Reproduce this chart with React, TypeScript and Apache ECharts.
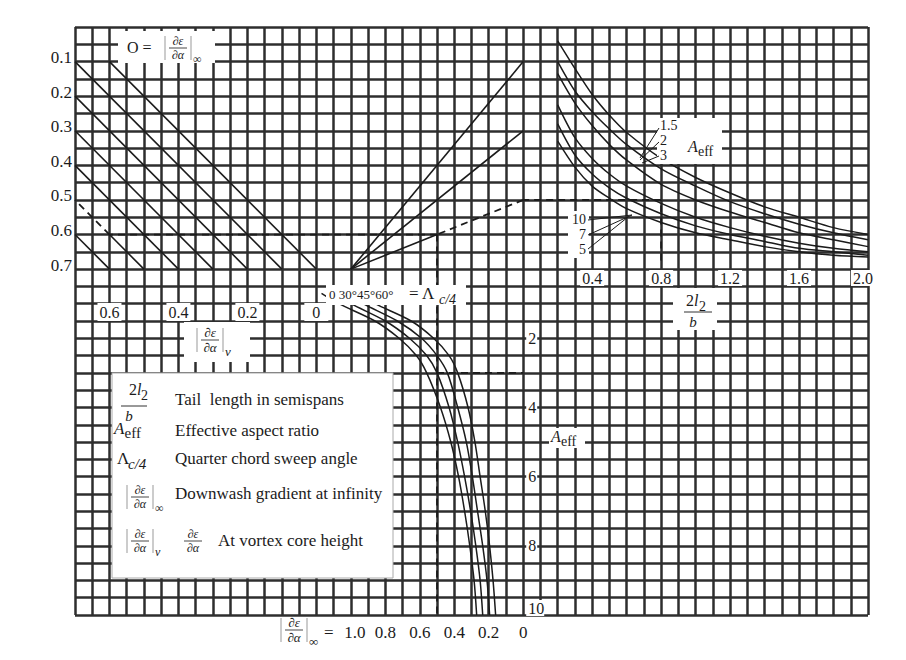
import React, { useEffect, useRef } from "react";
import * as echarts from "echarts";

// ---------- data ----------
// left edge scale: (∂ε/∂α)∞ values
const S_TICKS = [0.1, 0.2, 0.3, 0.4, 0.5, 0.6, 0.7];
// bottom scale of the upper-left quadrant: (∂ε/∂α)v
const V_TICKS = [0.6, 0.4, 0.2, 0];
// bottom scale of the lower quadrant: (∂ε/∂α)∞
const INF_TICKS = [1.0, 0.8, 0.6, 0.4, 0.2, 0];
// horizontal scale of the upper-right quadrant: 2l2/b
const TAIL_TICKS = [0.4, 0.8, 1.2, 1.6, 2.0];
// vertical scale of the lower quadrant: Aeff
const AEFF_TICKS = [2, 4, 6, 8, 10];
const SWEEP_TEXT = "0 30°45°60°";

// upper-left guide lines: start [v, s] -> end [v, s]
const GUIDE_V0 = [0.6, 0.7, 0.7, 0.7, 0.7, 0.6, 0.7];
const GUIDE_S0 = [0.1, 0.1, 0.2, 0.3, 0.4, 0.6, 0.6];
const GUIDE_V1 = [0.0, 0.1, 0.2, 0.3, 0.4, 0.5, 0.6];
const GUIDE_S1 = [0.7, 0.7, 0.7, 0.7, 0.7, 0.7, 0.7];

// fan of lines from (∂ε/∂α)∞ = 1.0 to the centre axis (h units of right quadrant)
const FAN_H = [12, 8];
const FAN_LOW_H = 4;

// lower quadrant curves: (∂ε/∂α)∞ versus Aeff for each sweep angle
const CURVE_A = [0.7, 1, 1.5, 2, 2.5, 3, 4, 5, 6, 7, 8, 9, 10];
const CURVE_L0 = [1.17, 1.07, 0.86, 0.72, 0.62, 0.56, 0.48, 0.42, 0.375, 0.34, 0.31, 0.285, 0.27];
const CURVE_L30 = [1.1, 1.0, 0.8, 0.66, 0.56, 0.5, 0.43, 0.38, 0.34, 0.305, 0.275, 0.25, 0.235];
const CURVE_L45 = [1.03, 0.93, 0.73, 0.59, 0.5, 0.44, 0.38, 0.33, 0.295, 0.265, 0.235, 0.21, 0.195];
const CURVE_L60 = [0.96, 0.86, 0.65, 0.52, 0.43, 0.38, 0.32, 0.28, 0.25, 0.22, 0.195, 0.175, 0.16];

// upper-right quadrant curves: h versus 2l2/b for each Aeff
const R_T = [0.2, 0.3, 0.4, 0.5, 0.6, 0.8, 1.0, 1.2, 1.4, 1.6, 1.8, 2.0];
const R_A15 = [13.2, 11.6, 10.1, 8.9, 7.9, 6.4, 5.3, 4.4, 3.6, 3.0, 2.4, 2.0];
const R_A2 = [12.0, 10.3, 9.1, 8.1, 7.2, 5.8, 4.8, 3.9, 3.2, 2.6, 2.1, 1.7];
const R_A3 = [11.3, 9.6, 8.3, 7.2, 6.3, 4.9, 4.0, 3.3, 2.7, 2.1, 1.7, 1.3];
const R_A5 = [9.5, 7.6, 6.4, 5.5, 4.8, 3.8, 3.0, 2.4, 1.9, 1.5, 1.2, 1.0];
const R_A7 = [8.4, 6.6, 5.5, 4.7, 4.1, 3.2, 2.5, 2.0, 1.6, 1.2, 1.0, 0.8];
const R_A10 = [7.4, 5.9, 4.8, 4.1, 3.5, 2.7, 2.1, 1.7, 1.3, 1.0, 0.8, 0.7];

// worked example (dashed)
const EX_TAIL = 0.8;
const EX_H = 4;
const EX_S = 0.6;
const EX_S_START = 0.5;
const EX_INF = 0.5;
const EX_AEFF = 3;

// ---------- cell scales (46 x 34 square cells) ----------
const vCol = (v: number) => 14 - 20 * v;
const sRow = (s: number) => 20 * (0.7 - s);
const infCol = (e: number) => 26 - 10 * e;
const tailCol = (t: number) => 26 + 10 * t;
const aRow = (a: number) => -2 * a;

const FONT = '"Liberation Serif", "Times New Roman", serif';
const INK = "#1b1b1b";

function lineSeries(data: number[][], opt: any = {}) {
  return {
    type: "line",
    data,
    symbol: "none",
    showSymbol: false,
    silent: true,
    smooth: opt.smooth ?? false,
    clip: true,
    z: 5,
    lineStyle: {
      color: INK,
      width: opt.w ?? 1.6,
      type: opt.dash ? [7, 5] : "solid",
    },
  };
}

function txt(x: number, y: number, text: string, size = 16, o: any = {}) {
  const align = o.align || "left";
  const va = o.va || "middle";
  return {
    type: "text",
    x,
    y,
    z: 40,
    silent: true,
    style: {
      text,
      fill: INK,
      font: `${o.italic ? "italic " : ""}${size}px ${FONT}`,
      align,
      verticalAlign: va,
      textAlign: align,
      textVerticalAlign: va,
    },
  };
}
function box(x: number, y: number, w: number, h: number, stroke?: string) {
  return {
    type: "rect",
    z: 30,
    silent: true,
    shape: { x, y, width: w, height: h },
    style: { fill: "#fff", stroke: stroke || null, lineWidth: 1 },
  };
}
function seg(x1: number, y1: number, x2: number, y2: number, color = INK, w = 1) {
  return {
    type: "line",
    z: 40,
    silent: true,
    shape: { x1, y1, x2, y2 },
    style: { stroke: color, lineWidth: w },
  };
}
// ∂ε / ∂α fraction with bar centred at (cx, cy)
function dFrac(cx: number, cy: number, size = 13, w = 18) {
  return [
    txt(cx, cy - 1, "∂ε", size, { align: "center", va: "bottom", italic: true }),
    seg(cx - w / 2, cy, cx + w / 2, cy, INK, 0.8),
    txt(cx, cy + 1, "∂α", size, { align: "center", va: "top", italic: true }),
  ];
}
function bracketed(cx: number, cy: number, sub: string, size = 13) {
  const els: any[] = [];
  els.push(seg(cx - 13, cy - 12, cx - 13, cy + 12, "#999", 1));
  els.push(seg(cx + 13, cy - 12, cx + 13, cy + 12, "#999", 1));
  els.push(...dFrac(cx, cy, size));
  els.push(txt(cx + 15, cy + 11, sub, size, { italic: sub === "v" }));
  return els;
}
function aeff(x: number, y: number, size = 17) {
  return [txt(x, y, "A", size, { italic: true }), txt(x + size * 0.62, y + 5, "eff", size - 2)];
}

function buildSeries() {
  const s: any[] = [];
  for (let i = 0; i < GUIDE_V0.length; i++) {
    s.push(
      lineSeries([
        [vCol(GUIDE_V0[i]), sRow(GUIDE_S0[i])],
        [vCol(GUIDE_V1[i]), sRow(GUIDE_S1[i])],
      ])
    );
  }
  FAN_H.forEach((h) => s.push(lineSeries([[infCol(1.0), 0], [infCol(0), h]])));
  s.push(lineSeries([[infCol(1.0), 0], [infCol(EX_INF), FAN_LOW_H * (1 - EX_INF)]]));
  [CURVE_L0, CURVE_L30, CURVE_L45, CURVE_L60].forEach((c) =>
    s.push(lineSeries(CURVE_A.map((a, i) => [infCol(c[i]), aRow(a)]), { smooth: 0.3, w: 1.5 }))
  );
  [R_A15, R_A2, R_A3, R_A5, R_A7, R_A10].forEach((c) =>
    s.push(lineSeries(R_T.map((t, i) => [tailCol(t), c[i]]), { smooth: 0.3, w: 1.5 }))
  );
  // dashed worked example
  const d = { dash: true, w: 1.8 };
  s.push(lineSeries([[tailCol(EX_TAIL), 0.5], [tailCol(EX_TAIL), EX_H]], d));
  s.push(lineSeries([[tailCol(EX_TAIL), EX_H], [tailCol(0), EX_H]], d));
  s.push(lineSeries([[infCol(0), EX_H], [infCol(EX_INF), FAN_LOW_H * (1 - EX_INF)]], d));
  s.push(lineSeries([[infCol(EX_INF), sRow(EX_S)], [vCol(0.6), sRow(EX_S)]], d));
  s.push(lineSeries([[vCol(0.6), sRow(EX_S)], [vCol(0.7), sRow(EX_S_START)]], d));
  s.push(lineSeries([[infCol(EX_INF), sRow(EX_S)], [infCol(EX_INF), aRow(10)]], d));
  s.push(lineSeries([[infCol(EX_INF), aRow(EX_AEFF)], [infCol(0), aRow(EX_AEFF)]], d));
  return s;
}

function buildGraphic(P: (c: number, r: number) => number[]) {
  const g: any[] = [];
  // left scale
  S_TICKS.forEach((v) => {
    const [x, y] = P(0, sRow(v));
    g.push(txt(x - 3, y - 4, v.toFixed(1), 17, { align: "right" }));
  });
  // top label  O = (∂ε/∂α)∞
  g.push(box(118, 31, 97, 32));
  g.push(txt(127, 47, "O =", 16));
  g.push(...bracketed(178, 48, "∞", 12));
  // (∂ε/∂α)v scale
  V_TICKS.forEach((v) => {
    const [x] = P(vCol(v), 0);
    g.push(box(x - 12, 303, 24, 18));
    g.push(txt(x, 312, v === 0 ? "0" : v.toFixed(1), 16, { align: "center" }));
  });
  g.push(box(184, 322, 66, 40));
  g.push(...bracketed(210, 340, "v", 13));
  // sweep labels
  g.push(box(326, 285, 140, 20));
  g.push(txt(329, 294, SWEEP_TEXT, 13));
  g.push(txt(409, 293, "= Λ", 17));
  g.push(txt(439, 299, "c/4", 14, { italic: true }));
  // tail scale
  TAIL_TICKS.forEach((t) => {
    const [x] = P(tailCol(t), 0);
    const xx = t === 2.0 ? x - 5 : x;
    g.push(box(xx - 12, 270, 24, 16));
    g.push(txt(xx, 278, t.toFixed(1), 16, { align: "center" }));
  });
  g.push(box(673, 288, 44, 42));
  g.push(txt(694, 300, "2", 16, { align: "right" }));
  g.push(txt(694, 300, "l", 16, { italic: true }));
  g.push(txt(699, 306, "2", 14));
  g.push(seg(684, 312, 712, 312, INK, 0.9));
  g.push(txt(693, 322, "b", 15, { italic: true, align: "center" }));
  // Aeff scale on centre axis
  AEFF_TICKS.forEach((a) => {
    const [x, y] = P(26, aRow(a));
    const yy = a === 10 ? y - 7 : y;
    g.push(box(x + 3, yy - 8, a === 10 ? 18 : 11, 16));
    g.push(txt(x + 5, yy, String(a), 16));
  });
  g.push(box(549, 428, 36, 20));
  g.push(...aeff(551, 436, 16));
  // right curve labels
  g.push(box(657, 118, 65, 46));
  g.push(txt(660, 125, "1.5", 14));
  g.push(txt(660, 140, "2", 14));
  g.push(txt(660, 155, "3", 14));
  g.push(...aeff(688, 146, 16));
  g.push(seg(659, 128, 640, 158));
  g.push(seg(659, 142, 640, 160));
  g.push(seg(659, 156, 642, 163));
  g.push(box(568, 211, 21, 47));
  g.push(txt(586, 219, "10", 14, { align: "right" }));
  g.push(txt(586, 234, "7", 14, { align: "right" }));
  g.push(txt(586, 249, "5", 14, { align: "right" }));
  g.push(seg(588, 220, 632, 215));
  g.push(seg(588, 235, 632, 215));
  g.push(seg(588, 249, 628, 217));
  // bottom scale
  g.push(box(270, 617, 270, 40));
  g.push(...bracketed(294, 630, "∞", 13));
  g.push(txt(324, 632, "=", 17));
  INF_TICKS.forEach((v) => {
    const [x] = P(infCol(v), 0);
    g.push(txt(x + (v === 1 ? 4 : 0), 632, v === 0 ? "0" : v.toFixed(1), 17, { align: "center" }));
  });
  // legend box
  g.push(box(112, 373, 281, 205, "#aaa"));
  g.push(txt(137, 389, "2", 16, { align: "right" }));
  g.push(txt(137, 389, "l", 16, { italic: true }));
  g.push(txt(141, 395, "2", 14));
  g.push(seg(121, 406, 147, 406, INK, 0.9));
  g.push(txt(129, 416, "b", 15, { italic: true, align: "center" }));
  g.push(txt(175, 399, "Tail  length in semispans", 17));
  g.push(...aeff(114, 428, 17));
  g.push(txt(175, 430, "Effective aspect ratio", 17));
  g.push(txt(117, 458, "Λ", 17));
  g.push(txt(128, 464, "c/4", 15, { italic: true }));
  g.push(txt(175, 458, "Quarter chord sweep angle", 17));
  g.push(...bracketed(140, 497, "∞", 12));
  g.push(txt(175, 493, "Downwash gradient at infinity", 17));
  g.push(...bracketed(140, 541, "v", 12));
  g.push(...dFrac(193, 541, 12));
  g.push(txt(218, 540, "At vortex core height", 17));
  return g;
}

export default function App() {
  const ref = useRef<HTMLDivElement>(null);
  useEffect(() => {
    if (!ref.current) return;
    const chart = echarts.init(ref.current, undefined, { renderer: "svg" });
    const axisCommon = {
      type: "value",
      interval: 1,
      axisLabel: { show: false },
      axisTick: { show: false },
      axisLine: { show: false },
      splitLine: { show: true, lineStyle: { color: "#2e2e2e", width: 2.5 } },
    };
    chart.setOption({
      animation: false,
      backgroundColor: "#fff",
      grid: { left: 75, top: 27, width: 793, height: 588, containLabel: false },
      xAxis: { ...axisCommon, min: 0, max: 46 },
      yAxis: { ...axisCommon, min: -20, max: 14 },
      series: buildSeries(),
    });
    const P = (c: number, r: number) => chart.convertToPixel({ gridIndex: 0 }, [c, r]) as number[];
    chart.setOption({ graphic: { elements: buildGraphic(P) } });
    return () => chart.dispose();
  }, []);
  return (
    <div
      ref={ref}
      style={{ position: "absolute", left: 0, top: 0, width: 906, height: 660, background: "#fff" }}
    />
  );
}
